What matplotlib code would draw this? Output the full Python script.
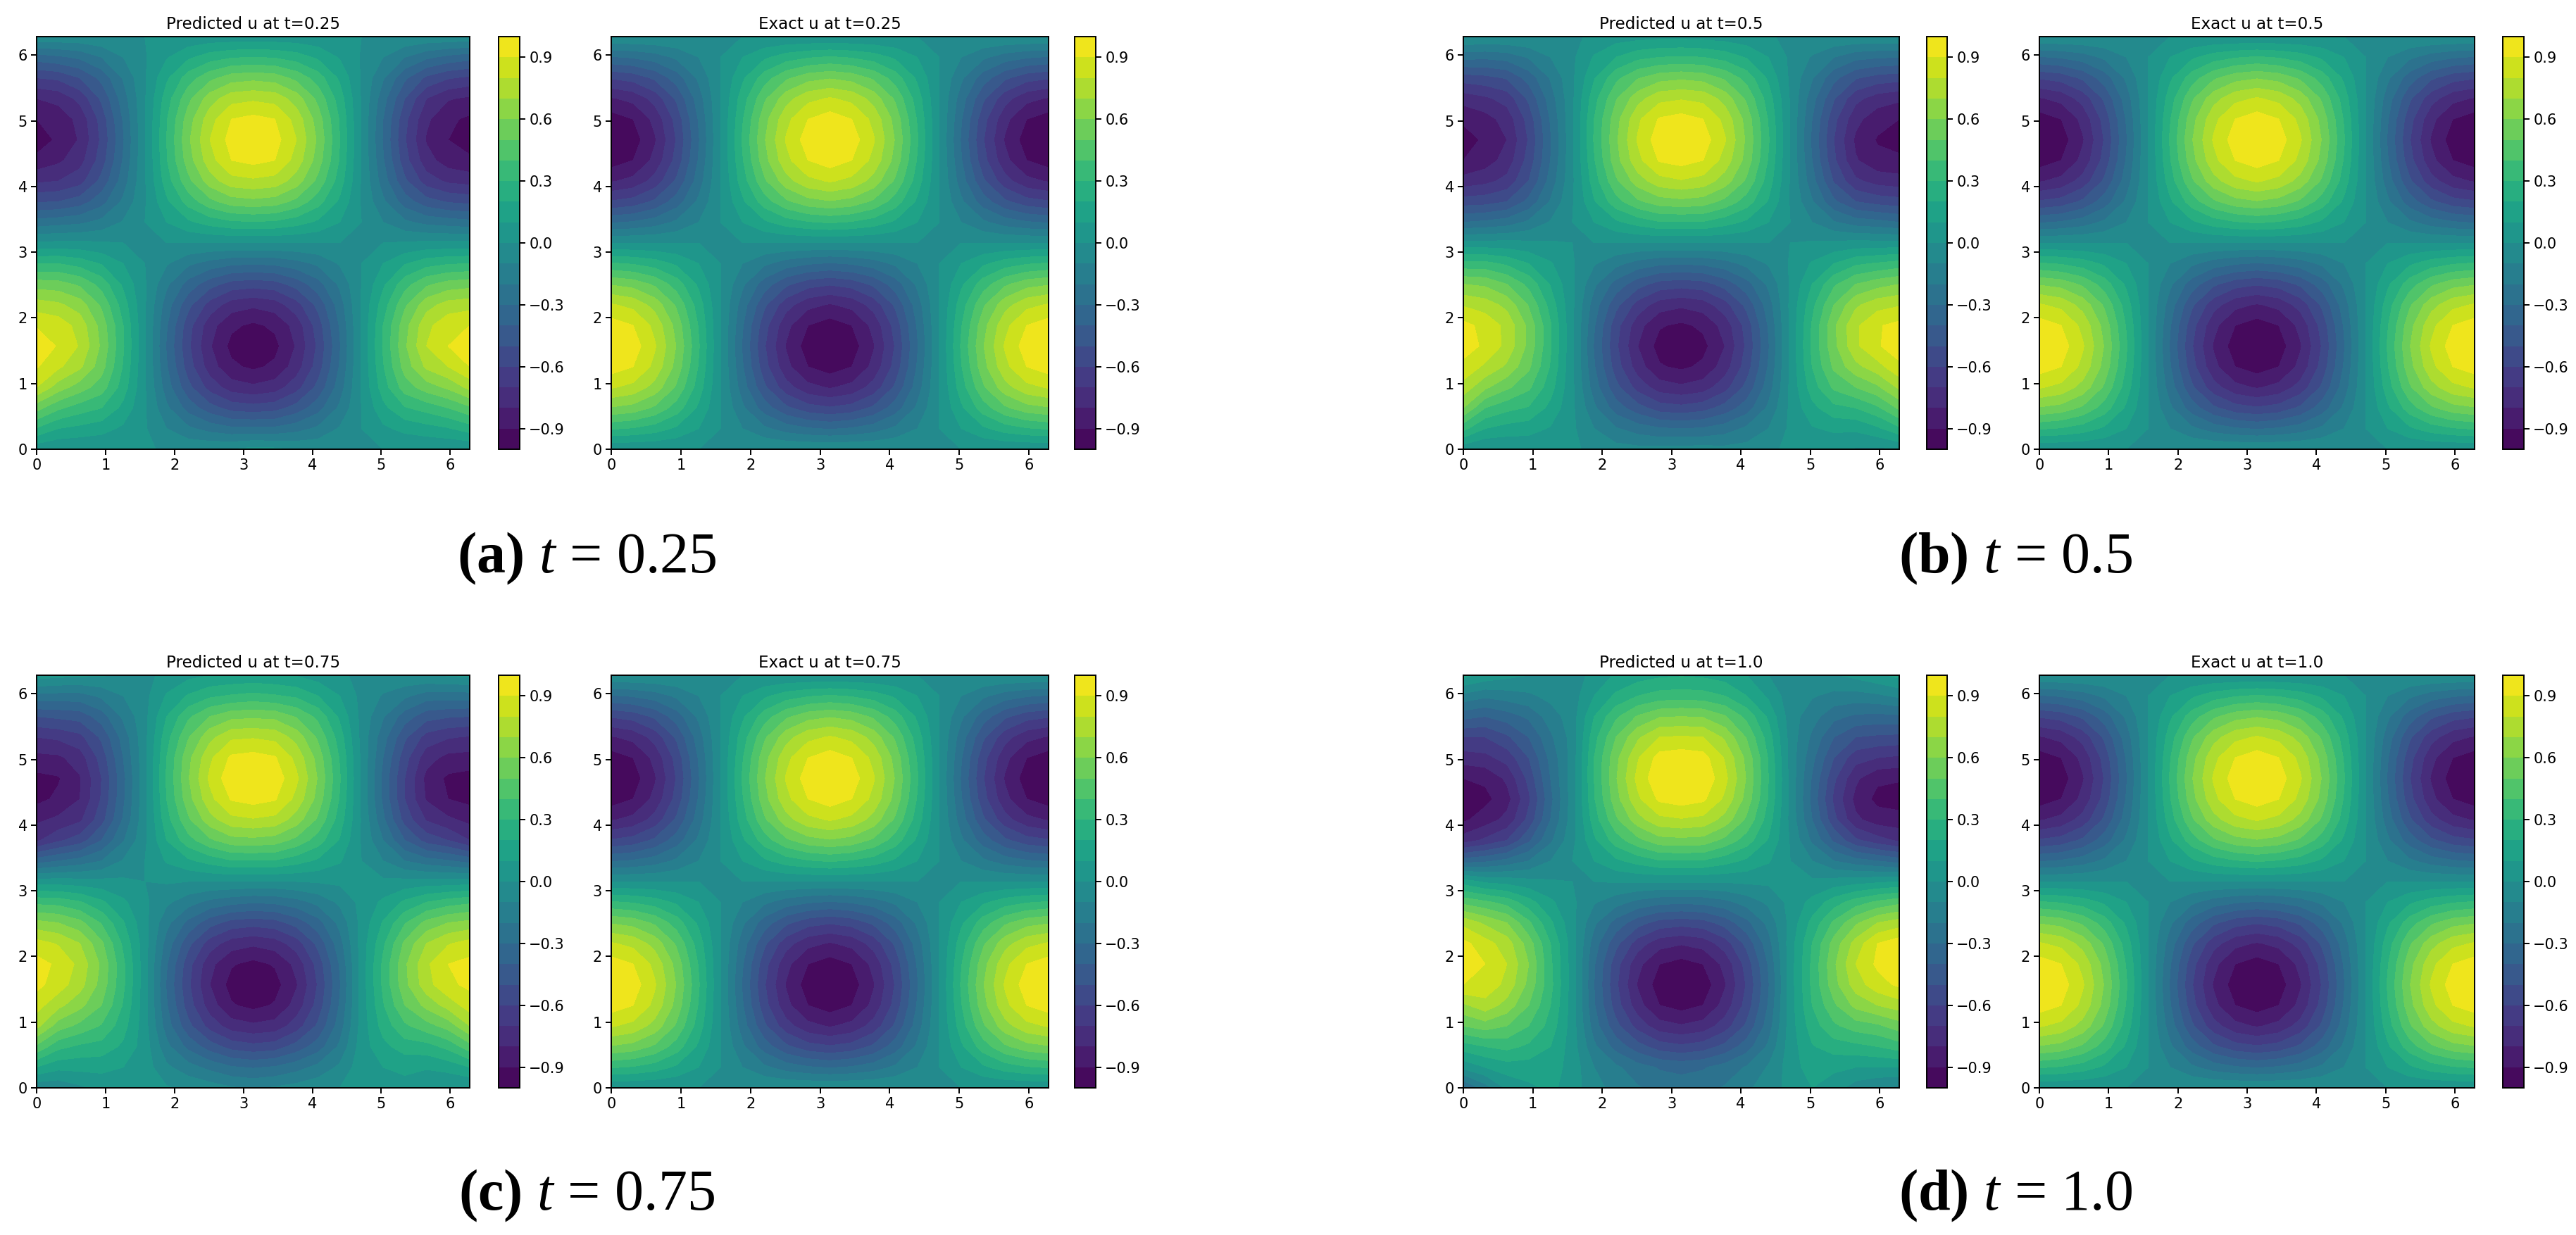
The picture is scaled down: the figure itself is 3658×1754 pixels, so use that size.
import numpy as np
import matplotlib
matplotlib.use("Agg")
import matplotlib.pyplot as plt

plt.rcParams['mathtext.fontset'] = 'custom'
plt.rcParams['mathtext.rm'] = 'Liberation Serif'
plt.rcParams['mathtext.it'] = 'Liberation Serif:italic'
plt.rcParams['mathtext.bf'] = 'Liberation Serif:bold'

# Each line is one x column (x = 0 ... 2*pi); values run upward in y (0 ... 2*pi), in hundredths.
exact_u = [
 [0,31,59,81,95,100,95,81,59,31,0,-31,-59,-81,-95,-100,-95,-81,-59,-31,0],
 [0,29,56,77,90,95,90,77,56,29,0,-29,-56,-77,-90,-95,-90,-77,-56,-29,0],
 [0,25,48,66,77,81,77,66,48,25,0,-25,-48,-66,-77,-81,-77,-66,-48,-25,0],
 [0,18,35,48,56,59,56,48,35,18,0,-18,-35,-48,-56,-59,-56,-48,-35,-18,0],
 [0,10,18,25,29,31,29,25,18,10,0,-10,-18,-25,-29,-31,-29,-25,-18,-10,0],
 [0,0,0,0,0,0,0,0,0,0,0,0,0,0,0,0,0,0,0,0,0],
 [0,-10,-18,-25,-29,-31,-29,-25,-18,-10,0,10,18,25,29,31,29,25,18,10,0],
 [0,-18,-35,-48,-56,-59,-56,-48,-35,-18,0,18,35,48,56,59,56,48,35,18,0],
 [0,-25,-48,-66,-77,-81,-77,-66,-48,-25,0,25,48,66,77,81,77,66,48,25,0],
 [0,-29,-56,-77,-90,-95,-90,-77,-56,-29,0,29,56,77,90,95,90,77,56,29,0],
 [0,-31,-59,-81,-95,-100,-95,-81,-59,-31,0,31,59,81,95,100,95,81,59,31,0],
 [0,-29,-56,-77,-90,-95,-90,-77,-56,-29,0,29,56,77,90,95,90,77,56,29,0],
 [0,-25,-48,-66,-77,-81,-77,-66,-48,-25,0,25,48,66,77,81,77,66,48,25,0],
 [0,-18,-35,-48,-56,-59,-56,-48,-35,-18,0,18,35,48,56,59,56,48,35,18,0],
 [0,-10,-18,-25,-29,-31,-29,-25,-18,-10,0,10,18,25,29,31,29,25,18,10,0],
 [0,0,0,0,0,0,0,0,0,0,0,0,0,0,0,0,0,0,0,0,0],
 [0,10,18,25,29,31,29,25,18,10,0,-10,-18,-25,-29,-31,-29,-25,-18,-10,0],
 [0,18,35,48,56,59,56,48,35,18,0,-18,-35,-48,-56,-59,-56,-48,-35,-18,0],
 [0,25,48,66,77,81,77,66,48,25,0,-25,-48,-66,-77,-81,-77,-66,-48,-25,0],
 [0,29,56,77,90,95,90,77,56,29,0,-29,-56,-77,-90,-95,-90,-77,-56,-29,0],
 [0,31,59,81,95,100,95,81,59,31,0,-31,-59,-81,-95,-100,-95,-81,-59,-31,0],
]
pred_025 = [
 [3,29,54,80,91,97,89,75,55,30,1,-26,-51,-72,-87,-96,-90,-80,-60,-35,-2],
 [0,20,42,65,82,89,86,72,54,30,2,-24,-50,-70,-82,-88,-86,-77,-58,-32,-2],
 [0,17,35,55,72,79,76,65,48,26,2,-22,-45,-64,-74,-79,-77,-67,-50,-28,-2],
 [0,14,30,45,54,58,56,48,36,19,1,-17,-34,-47,-55,-58,-56,-48,-37,-20,-1],
 [0,8,17,25,29,31,30,25,18,10,0,-9,-18,-25,-29,-31,-29,-25,-19,-10,0],
 [1,1,1,1,1,1,1,1,1,0,0,0,-1,-1,-1,-1,-1,-1,-1,-1,0],
 [-1,-10,-18,-25,-29,-31,-29,-25,-18,-9,0,10,18,25,29,30,29,25,18,9,1],
 [-2,-18,-34,-47,-55,-58,-56,-47,-34,-18,0,18,34,47,55,58,55,47,35,18,2],
 [-1,-24,-46,-64,-75,-79,-76,-64,-46,-24,0,24,47,65,76,80,76,65,47,25,3],
 [0,-28,-54,-75,-88,-93,-88,-75,-54,-28,0,28,55,76,90,94,90,76,55,29,3],
 [3,-28,-56,-78,-92,-96,-92,-78,-56,-29,0,29,57,78,93,98,93,78,57,30,3],
 [2,-28,-54,-75,-88,-93,-88,-75,-54,-28,0,28,55,76,90,94,90,76,55,29,3],
 [-1,-24,-46,-64,-75,-79,-76,-64,-46,-24,0,24,47,65,76,80,76,65,47,25,3],
 [-2,-18,-34,-47,-55,-58,-55,-47,-34,-18,0,18,34,47,55,58,55,47,35,18,2],
 [-1,-9,-18,-25,-29,-31,-29,-25,-18,-9,0,10,18,25,29,30,29,25,18,9,1],
 [0,0,0,1,1,1,1,1,0,0,0,0,-1,-1,-1,-1,-1,-1,-1,-1,0],
 [0,8,17,25,29,31,30,25,18,10,0,-10,-18,-25,-29,-31,-30,-26,-19,-10,0],
 [0,13,29,45,54,58,56,48,36,19,1,-18,-35,-48,-56,-59,-57,-50,-38,-20,-1],
 [0,16,34,55,72,80,77,66,48,26,2,-23,-46,-65,-76,-81,-78,-70,-52,-28,-2],
 [0,19,40,62,80,90,87,74,54,29,2,-25,-51,-72,-85,-90,-88,-79,-59,-33,-2],
 [0,25,48,73,90,95,90,76,56,30,2,-27,-53,-74,-88,-95,-92,-82,-62,-36,-3],
]
pred_050 = [
 [3,33,60,76,87,95,93,79,60,33,3,-30,-55,-76,-90,-95,-88,-76,-55,-27,1],
 [-1,20,40,62,78,88,87,75,58,33,3,-28,-54,-73,-85,-88,-84,-72,-53,-28,0],
 [0,16,33,52,68,77,77,67,50,28,3,-25,-50,-67,-76,-80,-76,-66,-49,-26,0],
 [2,14,29,42,52,57,57,49,37,20,2,-18,-37,-50,-56,-59,-56,-48,-36,-19,0],
 [2,9,17,24,29,31,31,26,19,11,1,-9,-19,-26,-30,-31,-29,-25,-19,-10,-1],
 [2,2,2,2,2,2,2,2,2,1,0,0,-1,-2,-2,-2,-2,-2,-2,-2,-2],
 [-3,-10,-18,-25,-29,-31,-29,-25,-18,-9,0,10,19,25,29,31,30,26,19,11,2],
 [-6,-19,-35,-47,-55,-58,-56,-47,-34,-17,0,18,36,48,56,58,56,49,37,20,5],
 [-7,-25,-46,-64,-75,-80,-76,-64,-46,-24,0,24,48,65,77,81,78,66,49,27,6],
 [-7,-29,-55,-75,-89,-94,-89,-75,-54,-28,0,29,55,76,91,96,91,77,56,30,7],
 [-6,-30,-57,-78,-92,-97,-92,-78,-56,-29,0,29,57,79,94,98,94,79,58,31,7],
 [-6,-29,-54,-75,-88,-93,-88,-75,-54,-28,0,29,55,76,90,95,90,77,56,30,6],
 [-7,-25,-46,-64,-75,-80,-76,-64,-46,-24,0,24,47,65,76,81,77,66,48,26,5],
 [-6,-18,-35,-47,-55,-58,-56,-47,-34,-17,0,18,35,48,56,58,56,48,36,19,3],
 [-2,-10,-18,-25,-29,-31,-29,-25,-18,-9,0,10,19,25,29,31,29,25,18,10,1],
 [2,2,2,2,2,2,2,2,1,1,0,0,-1,-1,-1,-1,-1,-1,-2,-2,-2],
 [3,9,17,25,30,32,31,27,20,11,1,-10,-19,-26,-30,-32,-30,-26,-19,-11,-2],
 [2,12,27,42,52,57,58,50,38,20,2,-19,-38,-51,-58,-60,-57,-49,-37,-20,-1],
 [-1,12,30,50,67,78,78,68,50,28,3,-25,-50,-68,-79,-82,-77,-67,-49,-27,-1],
 [-2,18,38,58,76,89,89,76,56,31,3,-27,-54,-74,-87,-91,-86,-75,-54,-29,-1],
 [0,28,52,72,88,95,93,79,60,34,3,-30,-56,-76,-88,-94,-90,-78,-56,-30,-1],
]
pred_075 = [
 [-8,20,48,73,84,93,94,84,63,37,5,-35,-72,-82,-93,-93,-83,-70,-50,-23,5],
 [-8,13,33,55,73,85,88,79,60,36,5,-30,-62,-78,-88,-91,-82,-68,-48,-24,3],
 [-2,13,28,47,63,74,77,70,53,31,4,-26,-55,-72,-80,-81,-75,-63,-46,-24,2],
 [3,13,26,39,50,56,58,52,39,22,3,-20,-40,-54,-59,-60,-56,-48,-35,-18,1],
 [4,10,18,24,29,32,32,28,21,12,2,-9,-21,-29,-32,-33,-30,-26,-18,-10,-1],
 [5,5,5,4,4,4,4,4,3,2,0,0,-2,-3,-3,-3,-3,-3,-3,-3,-3],
 [1,-8,-17,-25,-29,-31,-29,-24,-17,-8,1,11,20,26,30,31,30,26,20,11,3],
 [-2,-16,-33,-47,-55,-58,-56,-47,-33,-16,0,18,36,48,56,59,57,49,38,21,7],
 [-5,-23,-45,-64,-75,-80,-77,-65,-46,-23,0,24,48,66,77,82,78,67,50,28,10],
 [-9,-29,-54,-75,-89,-94,-89,-75,-54,-27,0,29,56,77,91,97,92,78,57,31,11],
 [-11,-31,-57,-78,-93,-98,-93,-78,-56,-29,-1,29,57,79,94,99,94,79,58,33,12],
 [-9,-29,-55,-76,-89,-94,-89,-75,-54,-28,-1,29,55,77,91,96,91,77,57,31,11],
 [-6,-24,-46,-65,-76,-81,-77,-65,-46,-24,0,24,47,65,77,82,77,66,49,28,9],
 [-3,-17,-35,-48,-56,-59,-56,-47,-34,-17,1,18,35,48,56,59,56,48,37,20,5],
 [0,-8,-18,-25,-29,-31,-29,-24,-17,-8,2,11,19,25,29,31,29,25,18,10,2],
 [6,6,5,4,4,4,4,4,3,3,1,0,-1,-1,-2,-2,-2,-3,-3,-3,-3],
 [7,10,17,24,29,32,32,28,21,12,2,-10,-20,-28,-32,-33,-30,-26,-19,-11,-3],
 [7,12,25,38,50,57,58,52,39,22,3,-20,-40,-54,-60,-60,-56,-48,-35,-18,-1],
 [2,11,26,46,63,76,78,70,53,30,4,-26,-54,-71,-81,-83,-76,-64,-46,-25,0],
 [-1,14,33,54,74,88,90,79,60,35,4,-29,-60,-78,-90,-92,-83,-69,-49,-25,1],
 [-1,20,46,70,85,92,93,84,63,38,5,-34,-70,-83,-93,-94,-84,-71,-50,-25,3],
]
pred_100 = [
 [-32,3,25,50,68,90,98,93,77,47,15,-35,-75,-92,-98,-90,-75,-60,-37,-13,13],
 [-15,10,30,55,76,87,90,84,68,42,8,-32,-68,-85,-93,-88,-73,-60,-40,-18,7],
 [2,15,33,50,66,77,80,75,60,36,6,-27,-60,-77,-84,-78,-66,-52,-35,-15,3],
 [8,15,28,40,50,57,60,55,42,24,3,-20,-42,-57,-62,-57,-50,-40,-28,-12,0],
 [12,15,20,26,30,33,32,30,22,12,1,-10,-22,-30,-33,-30,-27,-22,-15,-7,-3],
 [6,6,5,5,5,5,5,5,3,2,0,0,-3,-5,-5,-5,-6,-6,-5,-5,-8],
 [-8,-10,-18,-25,-29,-30,-29,-25,-18,-9,0,10,18,25,29,30,30,26,20,10,5],
 [-12,-18,-34,-47,-55,-58,-56,-47,-34,-16,1,18,35,48,56,59,57,50,38,22,11],
 [-19,-26,-46,-64,-76,-81,-77,-65,-46,-23,1,24,47,66,78,83,79,68,51,30,15],
 [-24,-31,-55,-76,-90,-95,-90,-76,-54,-27,1,29,56,77,92,98,94,80,59,34,18],
 [-25,-33,-58,-79,-94,-99,-94,-79,-56,-28,1,29,57,79,95,100,96,81,60,35,19],
 [-24,-31,-55,-76,-90,-96,-90,-76,-54,-27,1,29,56,77,92,98,94,80,59,34,18],
 [-19,-26,-47,-65,-76,-81,-77,-65,-46,-23,1,24,47,66,78,83,79,68,51,30,15],
 [-12,-19,-35,-48,-56,-59,-56,-47,-33,-16,2,18,35,48,56,59,57,49,37,20,10],
 [-5,-9,-18,-25,-29,-31,-29,-24,-17,-8,2,11,19,25,29,30,29,25,18,8,0],
 [3,5,5,5,5,5,5,5,3,3,1,0,-1,-3,-3,-3,-4,-4,-5,-6,-6],
 [10,15,19,25,30,32,32,30,23,13,2,-10,-22,-30,-33,-31,-27,-22,-16,-9,-6],
 [5,12,25,38,48,56,58,54,42,25,4,-20,-42,-57,-62,-58,-50,-40,-27,-13,-1],
 [-5,10,27,45,63,75,80,74,58,35,6,-26,-58,-78,-83,-78,-66,-50,-32,-14,3],
 [-10,10,30,48,70,86,92,90,70,42,8,-30,-66,-85,-93,-88,-70,-52,-33,-12,8],
 [-12,10,35,55,75,92,98,96,75,47,10,-35,-72,-86,-95,-89,-72,-53,-32,-8,13],
]

times = ['0.25', '0.5', '0.75', '1.0']
predicted = [pred_025, pred_050, pred_075, pred_100]
panel_letters = ['a', 'b', 'c', 'd']
cbar_ticks = [-0.9, -0.6, -0.3, 0.0, 0.3, 0.6, 0.9]
axis_ticks = [0, 1, 2, 3, 4, 5, 6]

W, H = 3658, 1754
fig = plt.figure(figsize=(W / 100, H / 100), dpi=100)

def box(x0, x1, y0, y1):
    return [x0 / W, 1 - y1 / H, (x1 - x0) / W, (y1 - y0) / H]

x_grid = np.linspace(0, 2 * np.pi, 21)
y_grid = np.linspace(0, 2 * np.pi, 21)
levels = np.linspace(-1, 1, 21)

def panel(values, title, ax_x, cb_x, row_y):
    ax = fig.add_axes(box(ax_x[0], ax_x[1], row_y[0], row_y[1]))
    Z = np.array(values, dtype=float).T / 100
    cf = ax.contourf(x_grid, y_grid, Z, levels=levels, cmap='viridis')
    ax.set_xticks(axis_ticks)
    ax.set_yticks(axis_ticks)
    ax.tick_params(labelsize=15, length=6, width=1.4)
    for s in ax.spines.values():
        s.set_linewidth(1.4)
    ax.set_title(title, fontsize=16.6, pad=8)
    cax = fig.add_axes(box(cb_x[0], cb_x[1], row_y[0], row_y[1]))
    cb = fig.colorbar(cf, cax=cax)
    cb.set_ticks(cbar_ticks)
    cb.ax.tick_params(labelsize=15, length=6, width=1.4)
    cb.outline.set_linewidth(1.4)

columns = [
    ((52, 667), (708, 738), (868, 1489), (1526, 1556)),
    ((2078, 2697), (2736, 2765), (2896, 3514), (3554, 3584)),
]
rows = [(52, 638), (959, 1545)]
caption_x = [833, 2862]
caption_y = [793, 1698]

for i, t in enumerate(times):
    c = columns[i % 2]
    r = rows[i // 2]
    panel(predicted[i], f'Predicted u at t={t}', c[0], c[1], r)
    panel(exact_u, f'Exact u at t={t}', c[2], c[3], r)
    fig.text(caption_x[i % 2] / W, 1 - caption_y[i // 2] / H,
             rf'$\mathbf{{({panel_letters[i]})}}$ $t$ = {t}',
             fontsize=59, family='Liberation Serif', ha='center', va='center')

fig.savefig('out.png', dpi=100)
